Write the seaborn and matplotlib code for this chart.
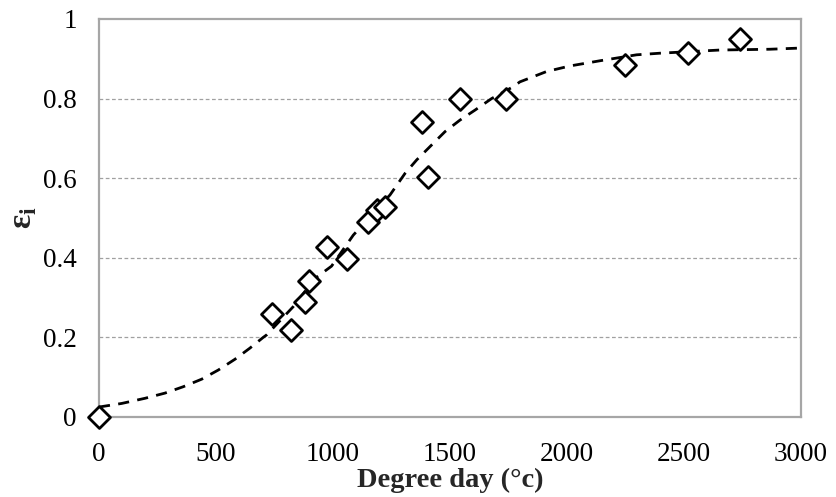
import matplotlib
matplotlib.use("Agg")
import matplotlib.pyplot as plt
import seaborn as sns
import pandas as pd

# Observed points
obs_x = [0, 738, 820, 880, 899, 976, 1058, 1151, 1190, 1222, 1379, 1407, 1543, 1739, 2248, 2518, 2739]
obs_y = [0.0, 0.259, 0.219, 0.290, 0.342, 0.428, 0.398, 0.491, 0.520, 0.528, 0.742, 0.602, 0.800, 0.800, 0.884, 0.914, 0.949]

# Fitted curve
fit_x = [0, 97, 197, 282, 360, 439, 510, 581, 645, 702, 716, 830, 923, 994, 1087, 1244, 1308, 1358,
         1421, 1479, 1543, 1607, 1678, 1771, 1799, 1913, 2013, 2141, 2298, 2397, 2654, 2868, 3000]
fit_y = [0.025, 0.034, 0.047, 0.060, 0.076, 0.095, 0.118, 0.145, 0.173, 0.200, 0.206, 0.277, 0.348, 0.379, 0.457,
         0.558, 0.612, 0.646, 0.683, 0.717, 0.746, 0.771, 0.800, 0.830, 0.842, 0.868, 0.882, 0.895,
         0.910, 0.914, 0.922, 0.924, 0.927]

x_ticks = [0, 500, 1000, 1500, 2000, 2500, 3000]
y_ticks = [0, 0.2, 0.4, 0.6, 0.8, 1.0]
y_tick_labels = ["0", "0.2", "0.4", "0.6", "0.8", "1"]

sns.set_style("white")
plt.rcParams["font.family"] = ["Liberation Serif", "DejaVu Serif"]
plt.rcParams["mathtext.fontset"] = "custom"
plt.rcParams["mathtext.rm"] = "Liberation Serif"
plt.rcParams["mathtext.bf"] = "Liberation Serif:bold"

fig = plt.figure(figsize=(8.36, 4.97), dpi=100)
ax = fig.add_axes([0.1184, 0.161, 0.8396, 0.8008])

obs = pd.DataFrame({"x": obs_x, "y": obs_y})
fit = pd.DataFrame({"x": fit_x, "y": fit_y})

gray = "#a6a6a6"
ax.set_axisbelow(True)
for v in y_ticks[1:-1]:
    ax.axhline(v, color="#a0a0a0", lw=0.9, ls=(0, (3, 2)), zorder=0)

sns.lineplot(data=fit, x="x", y="y", ax=ax, color="black", lw=2.0,
             linestyle=(0, (4, 3)), zorder=2)
sns.scatterplot(data=obs, x="x", y="y", ax=ax, marker="D", s=125,
                facecolor="white", edgecolor="black", linewidth=2.0, zorder=3, clip_on=False)

ax.set_xlim(0, 3000)
ax.set_ylim(0, 1)
ax.set_xticks(x_ticks)
ax.set_xticklabels([str(t) for t in x_ticks])
ax.set_yticks(y_ticks)
ax.set_yticklabels(y_tick_labels)

for s in ax.spines.values():
    s.set_color(gray)
    s.set_linewidth(1.6)
ax.tick_params(axis="both", direction="out", length=7, width=1.6, color=gray,
               labelsize=19.5, labelcolor="black")
ax.tick_params(axis="x", pad=11)
ax.tick_params(axis="y", pad=9)

ax.set_xlabel("Degree day (°c)", fontsize=20.5, fontweight="bold", labelpad=0.5)
ax.set_ylabel(r"$\mathbf{ε}_\mathbf{i}$", fontsize=24, rotation=90, labelpad=3)

fig.savefig("out.png", dpi=100)
